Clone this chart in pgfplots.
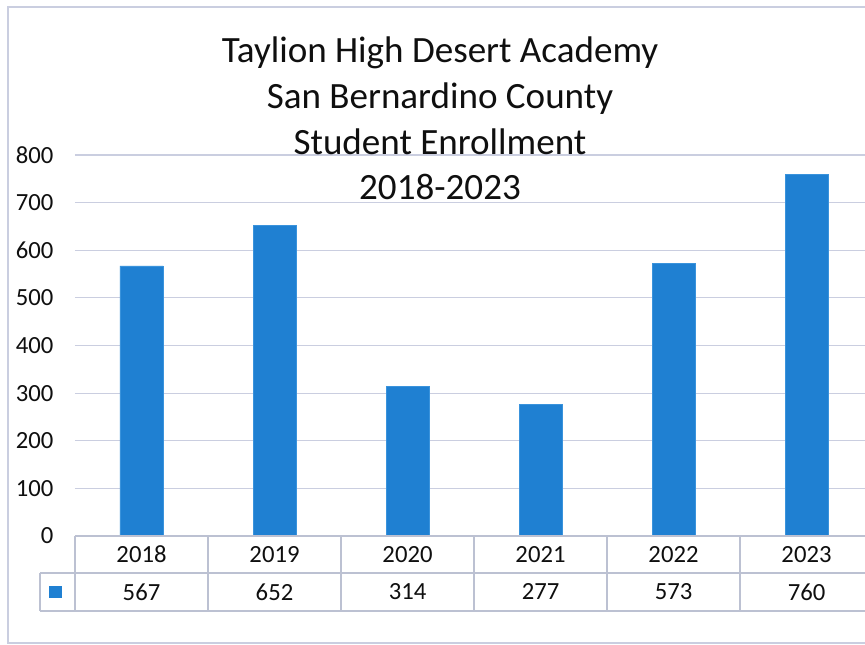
\documentclass[border=0pt]{standalone}
\usepackage{pgfplots}
\pgfplotsset{compat=1.18}
\usepackage{pgfplotstable}
\usepackage{fontspec}
\setmainfont{Carlito}
\definecolor{barblue}{HTML}{1F80D2}
\definecolor{baredge}{HTML}{3A93DC}
\definecolor{gridc}{RGB}{202,206,224}
\definecolor{tabc}{RGB}{188,193,210}
\definecolor{txt}{RGB}{15,15,15}

\pgfplotstableread{
x year value
0 2018 567
1 2019 652
2 2020 314
3 2021 277
4 2022 573
5 2023 760
}\enroll

\begin{document}
\begin{tikzpicture}
\useasboundingbox (0pt,0pt) rectangle (648.75pt,483.75pt);
\clip (0pt,0pt) rectangle (648.75pt,483.75pt);
\fill[white] (0pt,0pt) rectangle (648.75pt,483.75pt);
\draw[gridc, line width=0.8pt] (6pt,1.5pt) rectangle (680pt,478.5pt);
\begin{axis}[
  at={(56.25pt,81.75pt)}, anchor=south west,
  scale only axis, width=598.5pt, height=285.75pt,
  xmin=-0.5, xmax=5.5, ymin=0, ymax=800,
  ytick={0,100,...,800},
  xtick=data,
  xticklabels from table={\enroll}{year},
  axis line style={draw=none},
  major tick length=0pt,
  ymajorgrids, grid style={gridc, line width=0.8pt},
  yticklabel style={anchor=east, inner sep=0pt, xshift=-16pt},
  xticklabel style={anchor=center, inner sep=0pt, yshift=-13.9pt},
  tick label style={font=\fontsize{18.5}{20}\selectfont, text=txt},
  /pgf/number format/assume math mode=true,
  ybar, bar width=32.25pt,
]
\addplot[fill=barblue, draw=baredge, line width=0.6pt] table[x=x,y=value]{\enroll};
\end{axis}
\begin{scope}[x=0.75pt, y=0.75pt]
\begin{scope}[tabc, line width=0.8pt]
\draw (75,109) -- (900,109);
\draw (40,72) -- (900,72);
\draw (40,34) -- (900,34);
\draw (40,72) -- (40,34);
\foreach \xx in {75,208,341,474,607,740,873} {\draw (\xx,109) -- (\xx,34);}
\end{scope}
\fill[barblue] (49,47) rectangle (62,59);
\foreach \v [count=\i from 0] in {567,652,314,277,573,760} {
  \node[font=\fontsize{18.5}{20}\selectfont, text=txt, inner sep=0pt] at (141.5+133*\i,53) {\v};
}
\node[align=center, font=\fontsize{27.8}{34.3}\selectfont, text=txt] at (440,526.5)
  {Taylion High Desert Academy\\San Bernardino County\\Student Enrollment\\2018-2023};
\end{scope}
\end{tikzpicture}
\end{document}
